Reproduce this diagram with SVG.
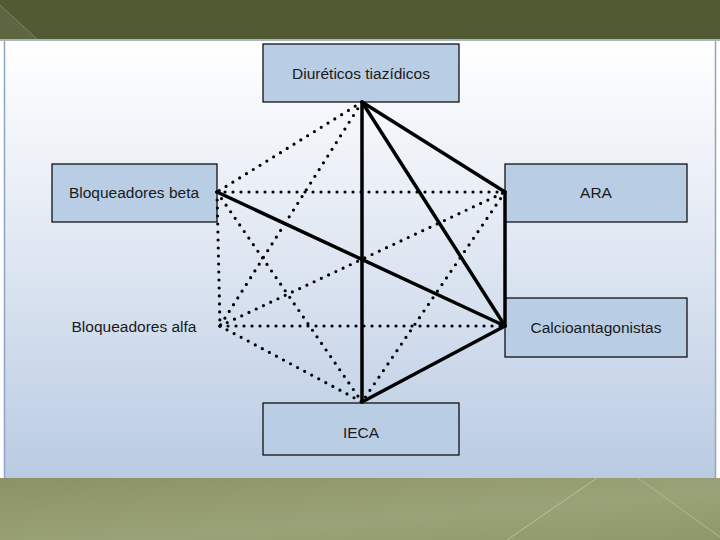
<svg xmlns="http://www.w3.org/2000/svg" width="720" height="540" viewBox="0 0 720 540">
<defs>
<linearGradient id="bg" x1="0" y1="0" x2="0" y2="1">
<stop offset="0" stop-color="#ffffff"/>
<stop offset="0.35" stop-color="#e9eef6"/>
<stop offset="1" stop-color="#b9cbe3"/>
</linearGradient>
<linearGradient id="bot" x1="0" y1="0" x2="1" y2="1">
<stop offset="0" stop-color="#8b9366"/>
<stop offset="0.6" stop-color="#9aa377"/>
<stop offset="1" stop-color="#8f9869"/>
</linearGradient>
<style>
.box{fill:#b9cde5;stroke:#000;stroke-width:1.2}
.lbl{font-family:"Liberation Sans",Arial,sans-serif;font-size:15.5px;fill:#1a1a1a;text-anchor:middle;dominant-baseline:central}
.solid{stroke:#000;stroke-width:3.5;fill:none;stroke-linecap:round}
.dot{stroke:#000;stroke-width:3.2;fill:none;stroke-linecap:round;stroke-dasharray:0 8}
</style>
</defs>
<rect x="0" y="0" width="720" height="540" fill="#ffffff"/>
<rect x="0" y="0" width="720" height="40" fill="#525a33"/>
<polygon points="0,5 37,39 0,39" fill="#5e6641"/>
<line x1="0" y1="5" x2="37" y2="39" stroke="#7c8460" stroke-width="1"/>
<rect x="0" y="39" width="720" height="2" fill="#a9b8bf"/>
<rect x="4" y="41" width="712" height="437" fill="url(#bg)"/>
<line x1="4.5" y1="41" x2="4.5" y2="478" stroke="#8ea4c4" stroke-width="1.5"/>
<line x1="715.5" y1="41" x2="715.5" y2="478" stroke="#8ea4c4" stroke-width="1.5"/>
<rect x="0" y="478" width="720" height="62" fill="url(#bot)"/>
<line x1="597" y1="478" x2="507" y2="540" stroke="#b9c095" stroke-width="1"/>
<line x1="638" y1="478" x2="720" y2="537" stroke="#b2b98e" stroke-width="1"/>
<g id="diureticos">
<rect class="box" x="263" y="44" width="196" height="58"/>
<text class="lbl" x="361" y="73">Diuréticos tiazídicos</text>
</g>
<g id="beta">
<rect class="box" x="52" y="164" width="165" height="58"/>
<text class="lbl" x="134" y="192">Bloqueadores beta</text>
</g>
<g id="alfa">
<text class="lbl" x="134" y="326">Bloqueadores alfa</text>
</g>
<g id="ara">
<rect class="box" x="505" y="164" width="182" height="58"/>
<text class="lbl" x="596" y="192">ARA</text>
</g>
<g id="calcio">
<rect class="box" x="505" y="298" width="182" height="59"/>
<text class="lbl" x="596" y="327">Calcioantagonistas</text>
</g>
<g id="ieca">
<rect class="box" x="263" y="403" width="196" height="52"/>
<text class="lbl" x="361" y="432">IECA</text>
</g>
<g id="connectors">
<line class="dot" x1="362" y1="102" x2="217" y2="192"/>
<line class="dot" x1="362" y1="102" x2="220" y2="326"/>
<line class="dot" x1="217" y1="192" x2="220" y2="326"/>
<line class="dot" x1="217" y1="192" x2="505" y2="192"/>
<line class="dot" x1="217" y1="192" x2="362" y2="402"/>
<line class="dot" x1="220" y1="326" x2="505" y2="192"/>
<line class="dot" x1="220" y1="326" x2="505" y2="326"/>
<line class="dot" x1="220" y1="326" x2="362" y2="402"/>
<line class="dot" x1="505" y1="192" x2="362" y2="402"/>
<line class="solid" x1="362" y1="102" x2="505" y2="192"/>
<line class="solid" x1="362" y1="102" x2="505" y2="326"/>
<line class="solid" x1="362" y1="102" x2="362" y2="402"/>
<line class="solid" x1="217" y1="192" x2="505" y2="326"/>
<line class="solid" x1="505" y1="192" x2="505" y2="326"/>
<line class="solid" x1="505" y1="326" x2="362" y2="402"/>
</g>
</svg>
